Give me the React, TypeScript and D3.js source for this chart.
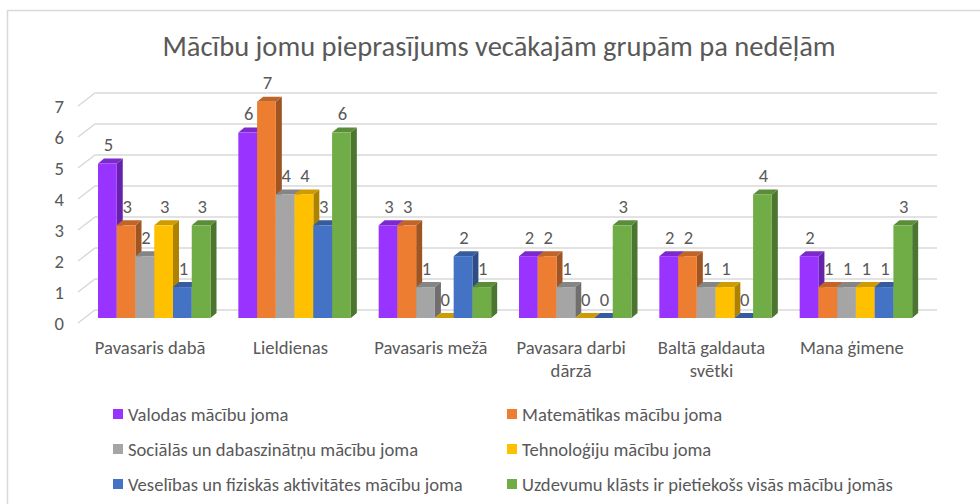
import React from "react";
import * as d3 from "d3";

const categories = [
  ["Pavasaris dabā"],
  ["Lieldienas"],
  ["Pavasaris mežā"],
  ["Pavasara darbi", "dārzā"],
  ["Baltā galdauta", "svētki"],
  ["Mana ģimene"],
];
const seriesNames = [
  "Valodas mācību joma",
  "Matemātikas mācību joma",
  "Sociālās un dabaszinātņu mācību joma",
  "Tehnoloģiju mācību joma",
  "Veselības un fiziskās aktivitātes mācību joma",
  "Uzdevumu klāsts ir pietiekošs visās mācību jomās",
];
const valodas = [5, 6, 3, 2, 2, 2];
const matematika = [3, 7, 3, 2, 2, 1];
const socialas = [2, 4, 1, 1, 1, 1];
const tehnologiju = [3, 4, 0, 0, 1, 1];
const veselibas = [1, 3, 2, 0, 0, 1];
const uzdevumu = [3, 6, 1, 3, 4, 3];
const seriesValues = [valodas, matematika, socialas, tehnologiju, veselibas, uzdevumu];
const colors = ["#9933FF", "#ED7D31", "#A5A5A5", "#FFC000", "#4472C4", "#70AD47"];
const yTicks = [0, 1, 2, 3, 4, 5, 6, 7];
const title = "Mācību jomu pieprasījums vecākajām grupām pa nedēļām";

const FONT = "Carlito, Calibri, Lato, 'Open Sans', sans-serif";
const TXT = "#595959";
const FS = 18.6;

export default function App() {
  const catKeys = categories.map((c) => c.join(" "));
  const x0 = d3.scaleBand<string>().domain(catKeys).range([84, 926]).paddingInner(0);
  const x1 = d3.scaleBand<number>().domain(d3.range(6)).range([14, 126.5]);
  const yBar = d3.scaleLinear().domain([0, 7]).range([318, 101.7]);
  const yBack = d3.scaleLinear().domain([0, 7]).range([310, 93]);
  const wallDx = 17, wallDy = 13;
  const backLeft = 95, backRight = 937;
  const dX = 6, dY = 5;

  const bars: JSX.Element[] = [];
  const labels: JSX.Element[] = [];
  catKeys.forEach((ck, ci) => {
    seriesValues.forEach((vals, si) => {
      const v = vals[ci];
      const x = (x0(ck) as number) + (x1(si) as number);
      const w = x1.bandwidth();
      const yt = yBar(v);
      const yb = yBar(0);
      const c = d3.color(colors[si])!;
      const side = d3.color(colors[si])!.darker(1.1).toString();
      const top = d3.color(colors[si])!.darker(0.6).toString();
      bars.push(
        <g key={`b${ci}-${si}`}>
          <polygon
            points={`${x + w},${yb} ${x + w + dX},${yb - dY} ${x + w + dX},${yt - dY} ${x + w},${yt}`}
            fill={side}
          />
          <polygon
            points={`${x},${yt} ${x + dX},${yt - dY} ${x + w + dX},${yt - dY} ${x + w},${yt}`}
            fill={top}
          />
          {v > 0 && <rect x={x} y={yt} width={w} height={yb - yt} fill={c.toString()} />}
        </g>
      );
      labels.push(
        <text
          key={`l${ci}-${si}`}
          x={x + w / 2 + 1}
          y={yt - 19}
          dy="0.35em"
          textAnchor="middle"
          fontSize={FS}
          fill={TXT}
          fontFamily={FONT}
        >
          {v}
        </text>
      );
    });
  });

  const legendCols = [113, 507];
  const legendRows = [414, 449, 484];

  return (
    <svg
      width={980}
      height={504}
      style={{ position: "absolute", left: 0, top: 0, background: "#fff" }}
      fontFamily={FONT}
    >
      <rect x={0} y={0} width={980} height={504} fill="#fff" />
      <rect x={7.5} y={10.5} width={1100} height={700} fill="none" stroke="#D9D9D9" strokeWidth={1.5} />
      <text x={499} y={46} dy="0.35em" textAnchor="middle" fontSize={28.5} fill={TXT}>
        {title}
      </text>
      {yTicks.map((t) => (
        <g key={`g${t}`}>
          <polyline
            points={`${backLeft - wallDx},${yBack(t) + wallDy} ${backLeft},${yBack(t)} ${backRight},${yBack(t)}`}
            fill="none"
            stroke="#D9D9D9"
            strokeWidth={1.5}
          />
          <text x={64} y={yBack(t) + wallDy} dy="0.35em" textAnchor="end" fontSize={FS} fill={TXT}>
            {t}
          </text>
        </g>
      ))}
      {bars}
      {labels}
      {categories.map((lines, ci) => {
        const cx = (x0(catKeys[ci]) as number) + x0.bandwidth() / 2 - 4;
        return (
          <text key={`c${ci}`} textAnchor="middle" fontSize={FS} fill={TXT}>
            {lines.map((ln, li) => (
              <tspan key={li} x={cx} y={347 + li * 23} dy="0.35em">
                {ln}
              </tspan>
            ))}
          </text>
        );
      })}
      {seriesNames.map((name, si) => {
        const col = si % 2;
        const row = Math.floor(si / 2);
        const lx = legendCols[col];
        const ly = legendRows[row];
        return (
          <g key={`lg${si}`}>
            <rect x={lx} y={ly - 5} width={10} height={10} fill={colors[si]} />
            <text x={lx + 15} y={ly} dy="0.35em" fontSize={FS} fill={TXT}>
              {name}
            </text>
          </g>
        );
      })}
    </svg>
  );
}
